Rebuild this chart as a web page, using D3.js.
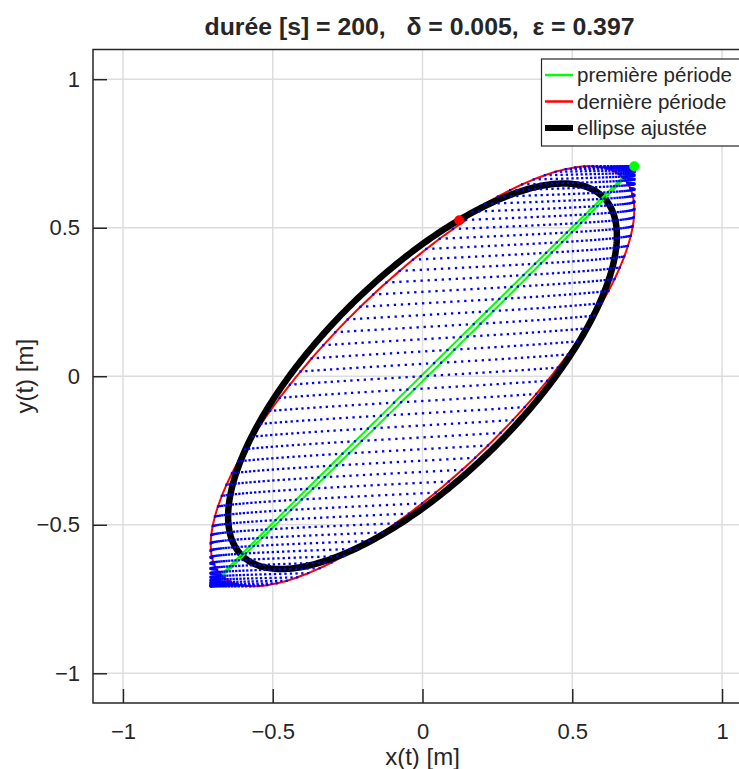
<!DOCTYPE html>
<html>
<head>
<meta charset="utf-8">
<script src="https://cdn.jsdelivr.net/npm/d3@7"></script>
<style>
  body { margin: 0; background: #ffffff; }
  text { font-family: "Liberation Sans", Arial, sans-serif; fill: #262626; }
</style>
</head>
<body>
<div id="plot"></div>
<script>
// Values
var xTicks = [-1, -0.5, 0, 0.5, 1];
var yTicks = [-1, -0.5, 0, 0.5, 1];
var axisLimits = [-1.1, 1.1];

var titleText = "durée [s] = 200,   δ = 0.005,  ε = 0.397";
var xLabel = "x(t) [m]";
var yLabel = "y(t) [m]";
var legendLabels = ["première période", "dernière période", "ellipse ajustée"];

// motion shown in the figure: y = A cos(wt), x = A cos(w(1+delta)t)
// (green line at the start, red ellipse after 200 s, end point at (0.12, 0.53))
var duration = 200;               // s, title
var delta = 0.005;                // title
var amplitude = [0.707, 0.707];   // corners of the blue area
var omega = 0.6634;               // rad/s, about 21 periods in 200 s
var sampleCount = 2112;           // blue dots, about 100 per period

// fitted ellipse (black): semi-axes, tilt in degrees; ratio b/a = epsilon
var fitAxes = [0.853, 0.3386];
var fitAngle = 45;

var svgWidth = 739;
var svgHeight = 769;

var margin = {top: 49.5, right: -13, bottom: 66, left: 93};
var width = svgWidth - margin.left - margin.right;
var height = svgHeight - margin.top - margin.bottom;

var svg = d3.select("#plot")
  .append("svg")
  .attr("width", svgWidth)
  .attr("height", svgHeight)
  .style("background", "white");

var chartGroup = svg.append("g")
  .attr("transform", `translate(${margin.left}, ${margin.top})`);

var xScale = d3.scaleLinear().domain(axisLimits).range([0, width]);
var yScale = d3.scaleLinear().domain(axisLimits).range([height, 0]);

// grid
chartGroup.append("g")
  .selectAll("line")
  .data(xTicks)
  .enter()
  .append("line")
  .attr("x1", d => xScale(d))
  .attr("x2", d => xScale(d))
  .attr("y1", 0)
  .attr("y2", height)
  .attr("stroke", "#dddddd")
  .attr("stroke-width", 1.5);

chartGroup.append("g")
  .selectAll("line")
  .data(yTicks)
  .enter()
  .append("line")
  .attr("x1", 0)
  .attr("x2", width)
  .attr("y1", d => yScale(d))
  .attr("y2", d => yScale(d))
  .attr("stroke", "#dddddd")
  .attr("stroke-width", 1.5);

// trajectory
function position(t) {
  return [amplitude[0] * Math.cos(omega * (1 + delta) * t), amplitude[1] * Math.cos(omega * t)];
}

var period = 2 * Math.PI / omega;
var samples = d3.range(sampleCount).map(i => position(i * duration / (sampleCount - 1)));
var firstPeriod = d3.range(401).map(i => position(i * period / 400));
var lastPeriod = d3.range(401).map(i => position(duration - period + i * period / 400));

var rot = fitAngle * Math.PI / 180;
var fitted = d3.range(360).map(function(k) {
  var u = k * Math.PI / 180;
  var ex = fitAxes[0] * Math.cos(u);
  var ey = fitAxes[1] * Math.sin(u);
  return [ex * Math.cos(rot) - ey * Math.sin(rot), ex * Math.sin(rot) + ey * Math.cos(rot)];
});

var line = d3.line()
  .x(d => xScale(d[0]))
  .y(d => yScale(d[1]));

chartGroup.append("path")
  .attr("d", line(lastPeriod))
  .attr("fill", "none")
  .attr("stroke", "#ff0000")
  .attr("stroke-width", 2);

chartGroup.append("path")
  .attr("d", line.curve(d3.curveLinearClosed)(fitted))
  .attr("fill", "none")
  .attr("stroke", "#000000")
  .attr("stroke-width", 6.5);

line.curve(d3.curveLinear);

chartGroup.append("path")
  .attr("d", line(firstPeriod))
  .attr("fill", "none")
  .attr("stroke", "#00ff00")
  .attr("stroke-width", 2);

chartGroup.append("g")
  .selectAll("rect")
  .data(samples)
  .enter()
  .append("rect")
  .attr("x", d => xScale(d[0]) - 1.15)
  .attr("y", d => yScale(d[1]) - 1.15)
  .attr("width", 2.3)
  .attr("height", 2.3)
  .attr("fill", "#0000ff");

var startPos = position(0);
var endPos = position(duration);

chartGroup.append("circle")
  .attr("cx", xScale(startPos[0]))
  .attr("cy", yScale(startPos[1]))
  .attr("r", 5)
  .attr("fill", "#00ff00");

chartGroup.append("circle")
  .attr("cx", xScale(endPos[0]))
  .attr("cy", yScale(endPos[1]))
  .attr("r", 5)
  .attr("fill", "#ff0000");

// axes
var bottomAxis = d3.axisBottom(xScale)
  .tickValues(xTicks)
  .tickFormat(d3.format("~g"))
  .tickSizeInner(-14)
  .tickSizeOuter(0)
  .tickPadding(20);

var leftAxis = d3.axisLeft(yScale)
  .tickValues(yTicks)
  .tickFormat(d3.format("~g"))
  .tickSizeInner(-14)
  .tickSizeOuter(0)
  .tickPadding(13);

var xAxisG = chartGroup.append("g")
  .attr("transform", `translate(0, ${height})`)
  .call(bottomAxis);

var yAxisG = chartGroup.append("g")
  .call(leftAxis);

[xAxisG, yAxisG].forEach(function(g) {
  g.select(".domain").remove();
  g.selectAll(".tick line").attr("stroke", "#262626").attr("stroke-width", 1.5);
  g.selectAll(".tick text")
    .attr("fill", "#262626")
    .style("font-size", "22px")
    .style("font-family", "'Liberation Sans', Arial, sans-serif");
});

// box
chartGroup.append("rect")
  .attr("x", 0)
  .attr("y", 0)
  .attr("width", width)
  .attr("height", height)
  .attr("fill", "none")
  .attr("stroke", "#262626")
  .attr("stroke-width", 1.5);

// title and labels
svg.append("text")
  .attr("x", margin.left + width / 2 - 3)
  .attr("y", 35)
  .attr("text-anchor", "middle")
  .style("font-size", "24.8px")
  .style("font-weight", "bold")
  .style("white-space", "pre")
  .attr("fill", "#000000")
  .text(titleText);

svg.append("text")
  .attr("x", margin.left + width / 2)
  .attr("y", 765)
  .attr("text-anchor", "middle")
  .style("font-size", "24px")
  .text(xLabel);

svg.append("text")
  .attr("transform", `translate(33, ${margin.top + height / 2}) rotate(-90)`)
  .attr("text-anchor", "middle")
  .style("font-size", "24px")
  .text(yLabel);

// legend
var legendColors = ["#00ff00", "#ff0000", "#000000"];
var legendStroke = [2.5, 2.5, 6];

var legend = svg.append("g");

legend.append("rect")
  .attr("x", 541.5)
  .attr("y", 59)
  .attr("width", 205)
  .attr("height", 87)
  .attr("fill", "white")
  .attr("stroke", "#262626")
  .attr("stroke-width", 1.2);

var rows = legend.selectAll("g.row")
  .data(legendLabels)
  .enter()
  .append("g")
  .attr("class", "row")
  .attr("transform", (d, i) => `translate(545, ${75 + i * 26.5})`);

rows.append("line")
  .attr("x1", 0)
  .attr("x2", 28)
  .attr("y1", 0)
  .attr("y2", 0)
  .attr("stroke", (d, i) => legendColors[i])
  .attr("stroke-width", (d, i) => legendStroke[i]);

rows.append("text")
  .attr("x", 32)
  .attr("y", 0)
  .attr("dy", "0.35em")
  .style("font-size", "20.5px")
  .attr("fill", "#000000")
  .text(d => d);
</script>
</body>
</html>
